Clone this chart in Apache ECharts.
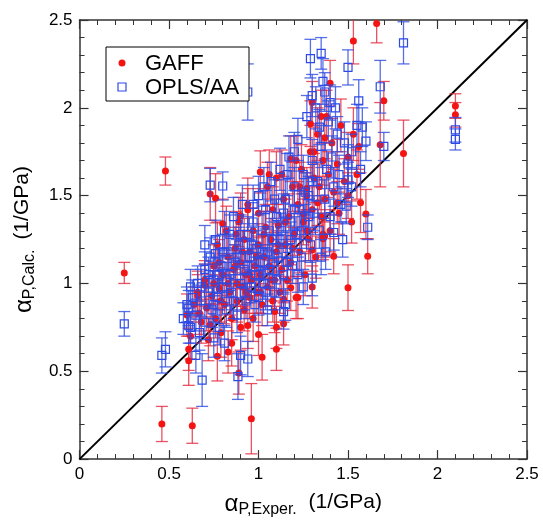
<!DOCTYPE html>
<html><head><meta charset="utf-8">
<script src="https://cdn.jsdelivr.net/npm/echarts@6/dist/echarts.min.js"></script>
<style>html,body{margin:0;padding:0;background:#fff}#c{width:543px;height:523px}</style>
</head><body><div id="c"></div>
<script>
// axis ticks (both axes)
const tickValues = [0, 0.5, 1, 1.5, 2, 2.5];
const seriesNames = ['GAFF', 'OPLS/AA'];
// [exper, calc, error]
const gaff = [
[0.25,1.06,0.06],[0.48,1.64,0.08],[0.46,0.20,0.10],[0.63,0.19,0.10],[0.96,0.23,0.20],[0.61,0.625,0.12],[0.61,0.56,0.14],
[0.77,0.585,0.14],[0.83,0.61,0.12],[0.85,0.66,0.13],[0.89,0.49,0.12],[1.02,0.58,0.13],[1.00,0.71,0.12],[1.10,0.625,0.12],
[1.10,0.75,0.12],[0.94,0.76,0.13],[0.67,0.83,0.12],[0.73,0.765,0.12],[0.73,1.51,0.15],[0.76,1.485,0.14],[0.80,1.34,0.14],
[0.90,1.385,0.13],[0.94,1.42,0.12],[0.875,1.28,0.13],[1.01,1.635,0.12],[1.06,1.62,0.14],[0.78,1.12,0.13],[0.70,0.99,0.12],
[0.66,0.93,0.12],[1.66,2.48,0.11],[1.53,2.38,0.13],[1.30,2.03,0.12],[1.40,2.14,0.13],[1.70,2.04,0.11],[1.29,1.91,0.13],
[1.37,1.83,0.12],[1.56,1.78,0.13],[1.68,1.79,0.24],[1.81,1.74,0.19],[2.10,2.01,0.07],[2.10,1.96,0.07],[1.18,1.71,0.13],
[1.27,1.54,0.12],[1.57,1.46,0.17],[1.60,1.395,0.14],[1.61,1.155,0.10],[1.42,1.155,0.10],[1.50,0.976,0.13],[1.37,1.27,0.12],
[1.30,0.98,0.12],[1.36,1.28,0.12],[1.36,1.255,0.12],[1.30,1.19,0.12],[1.50,1.50,0.13],[1.44,1.46,0.12],[1.33,1.46,0.13],
[1.25,1.395,0.13],[1.18,0.976,0.13],[1.14,0.91,0.13],[1.22,0.92,0.12],[1.09,0.84,0.12],[1.14,0.77,0.12],
[0.60,0.82,0.12],[0.62,0.70,0.13],[0.64,0.88,0.10],[0.66,0.95,0.12],[0.68,0.78,0.12],[0.70,1.02,0.11],[0.71,0.86,0.13],
[0.72,0.68,0.12],[0.74,0.93,0.12],[0.75,1.10,0.12],[0.76,0.80,0.11],[0.77,1.22,0.13],[0.78,0.97,0.12],[0.79,0.72,0.14],
[0.80,1.05,0.12],[0.81,0.88,0.11],[0.82,1.30,0.14],[0.83,1.15,0.12],[0.84,0.95,0.13],[0.85,0.80,0.12],[0.86,1.08,0.11],
[0.87,1.20,0.12],[0.88,0.90,0.12],[0.88,1.00,0.13],[0.89,1.35,0.14],[0.90,0.75,0.13],[0.90,1.12,0.12],[0.91,0.98,0.11],
[0.92,1.25,0.12],[0.92,0.85,0.12],[0.93,1.05,0.13],[0.94,1.45,0.15],[0.95,0.92,0.12],[0.95,1.18,0.12],[0.96,1.02,0.11],
[0.97,1.30,0.13],[0.97,0.80,0.13],[0.98,1.10,0.12],[0.99,0.95,0.12],[1.00,1.22,0.12],[1.00,1.40,0.14],[1.01,1.05,0.12],
[1.02,0.88,0.12],[1.03,1.15,0.12],[1.04,1.32,0.13],[1.05,0.98,0.11],[1.05,1.55,0.14],[1.06,1.10,0.12],[1.07,1.25,0.12],
[1.08,0.90,0.12],[1.08,1.42,0.13],[1.09,1.02,0.12],[1.10,1.18,0.12],[1.10,1.60,0.15],[1.11,1.33,0.12],[1.12,0.95,0.12],
[1.13,1.08,0.12],[1.14,1.48,0.13],[1.15,1.22,0.12],[1.16,1.02,0.12],[1.17,1.38,0.13],[1.18,1.12,0.12],[1.19,1.55,0.14],
[1.20,1.28,0.12],[1.21,0.92,0.12],[1.22,1.45,0.13],[1.23,1.18,0.12],[1.24,1.65,0.14],[1.25,1.35,0.13],[1.26,1.05,0.12],
[1.27,1.50,0.13],[1.28,1.25,0.12],[1.29,1.75,0.15],[1.30,1.42,0.13],[1.31,1.60,0.14],[1.32,1.15,0.12],[1.33,1.85,0.15],
[1.34,1.55,0.13],[1.35,1.38,0.12],[1.36,1.70,0.14],[1.37,1.48,0.13],[1.38,1.95,0.15],[1.39,1.62,0.13],[1.40,1.30,0.12],
[1.41,1.80,0.14],[1.42,1.52,0.13],[1.44,1.68,0.14],[1.45,1.40,0.12],[1.46,1.90,0.15],[1.48,1.58,0.13],[1.50,1.72,0.14],
[1.52,1.35,0.12],[1.55,1.62,0.14],[1.53,1.85,0.15],
[0.83,1.00,0.12],[0.87,1.10,0.12],[0.91,1.18,0.12],[0.95,1.05,0.12],[0.99,1.15,0.12],[1.03,1.28,0.13],[1.07,1.02,0.12],
[1.11,1.22,0.12],[1.15,1.35,0.13],[1.19,1.20,0.12],[1.23,1.55,0.14],[1.27,1.30,0.12],[0.79,0.90,0.12],[0.75,1.00,0.12],
[0.93,0.95,0.12],[1.01,0.95,0.12],[1.13,1.62,0.14],[1.21,1.70,0.14],[1.31,1.75,0.14],[1.35,1.95,0.15]
];
const opls = [
[0.25,0.77,0.07],[0.46,0.59,0.10],[0.48,0.625,0.10],[0.685,0.45,0.15],[0.885,0.47,0.13],[0.61,0.86,0.10],[0.61,0.76,0.10],
[0.65,0.59,0.10],[0.75,0.69,0.11],[0.81,0.66,0.10],[0.90,0.59,0.11],[0.94,0.57,0.10],[0.73,1.56,0.095],[0.80,1.555,0.08],
[0.76,1.17,0.10],[0.94,2.09,0.16],[1.81,2.37,0.12],[1.50,2.23,0.10],[1.35,2.31,0.09],[1.29,2.28,0.11],[1.30,2.07,0.12],
[1.37,2.09,0.11],[1.40,2.03,0.10],[1.68,2.12,0.15],[1.56,2.04,0.12],[1.34,1.89,0.10],[1.58,1.89,0.11],[1.44,1.85,0.10],
[1.60,1.81,0.11],[1.70,1.78,0.08],[2.10,1.875,0.07],[2.10,1.82,0.06],[1.52,1.75,0.10],[1.57,1.65,0.10],[1.20,1.75,0.11],
[1.61,1.32,0.07],[1.30,1.03,0.10],[1.375,1.18,0.10],[1.42,1.29,0.10],[1.50,1.59,0.10],[1.49,1.44,0.10],[1.14,0.84,0.10],
[0.58,0.80,0.09],[0.60,0.88,0.10],[0.62,0.75,0.09],[0.63,0.92,0.10],[0.65,0.82,0.09],[0.66,1.00,0.10],[0.67,0.72,0.10],
[0.68,0.90,0.09],[0.70,1.08,0.10],[0.70,0.78,0.10],[0.72,0.95,0.09],[0.73,1.15,0.11],[0.74,0.85,0.10],[0.75,1.02,0.09],
[0.76,1.25,0.11],[0.77,0.92,0.10],[0.78,0.75,0.10],[0.79,1.10,0.10],[0.80,0.98,0.09],[0.81,1.30,0.11],[0.82,0.85,0.10],
[0.83,1.18,0.10],[0.84,1.05,0.09],[0.85,0.95,0.10],[0.86,1.38,0.11],[0.87,1.12,0.10],[0.88,0.82,0.10],[0.89,1.22,0.10],
[0.90,1.00,0.09],[0.91,1.45,0.11],[0.92,1.08,0.10],[0.93,0.90,0.10],[0.94,1.28,0.10],[0.95,1.15,0.10],[0.96,0.98,0.09],
[0.97,1.35,0.11],[0.98,1.05,0.10],[0.99,1.20,0.10],[1.00,0.92,0.10],[1.00,1.50,0.11],[1.01,1.12,0.10],[1.02,1.30,0.10],
[1.03,1.00,0.09],[1.04,1.42,0.11],[1.05,1.18,0.10],[1.06,1.08,0.10],[1.07,1.58,0.11],[1.08,1.25,0.10],[1.09,0.95,0.10],
[1.10,1.38,0.10],[1.11,1.15,0.10],[1.12,1.65,0.12],[1.13,1.30,0.10],[1.14,1.05,0.10],[1.15,1.48,0.11],[1.16,1.20,0.10],
[1.17,1.72,0.12],[1.18,1.35,0.10],[1.19,1.10,0.10],[1.20,1.55,0.11],[1.21,1.28,0.10],[1.22,1.82,0.12],[1.23,1.42,0.11],
[1.24,1.15,0.10],[1.25,1.62,0.11],[1.26,1.35,0.10],[1.27,1.95,0.12],[1.28,1.50,0.11],[1.29,1.22,0.10],[1.30,1.70,0.12],
[1.31,1.40,0.10],[1.32,2.00,0.12],[1.33,1.58,0.11],[1.34,1.30,0.10],[1.35,1.78,0.12],[1.36,2.15,0.13],[1.37,1.48,0.11],
[1.38,1.65,0.11],[1.39,1.92,0.12],[1.40,1.38,0.10],[1.41,1.72,0.12],[1.42,1.55,0.11],[1.43,2.00,0.12],[1.45,1.62,0.11],
[1.46,1.45,0.10],[1.48,1.80,0.12],[1.50,1.68,0.11],[1.52,1.55,0.11],[1.55,1.90,0.12],[1.47,1.25,0.10],[1.35,1.15,0.10],
[1.25,0.98,0.10],[1.15,0.88,0.09],[1.05,0.85,0.09],
[0.82,1.02,0.10],[0.86,0.90,0.10],[0.88,1.15,0.10],[0.90,1.28,0.11],[0.92,0.95,0.10],[0.94,1.10,0.10],[0.96,1.22,0.10],
[0.98,0.88,0.10],[1.00,1.05,0.10],[1.02,1.18,0.10],[1.04,0.95,0.10],[1.06,1.30,0.11],[1.08,1.12,0.10],[1.10,1.02,0.10],
[1.12,1.25,0.10],[1.14,1.40,0.11],[1.16,1.12,0.10],[1.18,1.25,0.10],[1.20,1.42,0.11],[1.22,1.05,0.10],[1.24,1.30,0.10],
[1.26,1.52,0.11],[1.28,1.38,0.10],[1.30,1.58,0.11],[0.78,1.05,0.10],[0.80,1.18,0.10],[0.84,1.28,0.11],[0.72,1.05,0.10],
[0.68,0.98,0.10],[0.75,0.88,0.10],[0.97,1.45,0.11],[1.03,1.55,0.11],[1.09,1.48,0.11],[1.16,1.62,0.12],[0.62,0.98,0.10],
[0.70,1.22,0.11]
];
const diagonal = [[0,0],[2.5,2.5]];

const RED = '#f51414', RED_BAR = 'rgba(228,40,60,0.8)';
const BLUE = '#2d4ae6', BLUE_BAR = 'rgba(45,75,225,0.8)';
const FONT = 'Liberation Sans, Arial, Helvetica, sans-serif';

function errorSeries(name, data, color, z) {
  return {
    name, type: 'custom', data, z, clip: true, silent: true, animation: false,
    xAxisIndex: 0, yAxisIndex: 0, encode: { x: 0, y: 1 },
    renderItem(params, api) {
      const x = api.value(0), y = api.value(1), e = api.value(2);
      const t = api.coord([x, y + e]), b = api.coord([x, y - e]);
      const hw = 6, st = { stroke: color, lineWidth: 1.3 };
      return { type: 'group', children: [
        { type: 'line', shape: { x1: t[0], y1: t[1], x2: b[0], y2: b[1] }, style: st },
        { type: 'line', shape: { x1: t[0] - hw, y1: t[1], x2: t[0] + hw, y2: t[1] }, style: st },
        { type: 'line', shape: { x1: b[0] - hw, y1: b[1], x2: b[0] + hw, y2: b[1] }, style: st }
      ]};
    }
  };
}

function axisBase(pos, show, extra) {
  return Object.assign({
    type: 'value', position: pos, min: tickValues[0], max: tickValues[tickValues.length - 1], interval: 0.5,
    axisLine: { show: true, onZero: false, lineStyle: { color: '#333', width: 1.5 } },
    axisTick: { show: true, inside: true, length: 9, lineStyle: { color: '#333', width: 1.2 } },
    minorTick: { show: true, splitNumber: 5, length: 5, lineStyle: { color: '#333', width: 1 } },
    splitLine: { show: false },
    axisLabel: { show: show, fontSize: 17, color: '#000', fontFamily: FONT, margin: 7 }
  }, extra || {});
}

const richBase = {
  a: { fontSize: 24, fontFamily: FONT, color: '#000', verticalAlign: 'top', lineHeight: 26 },
  s: { fontSize: 16, fontFamily: FONT, color: '#000', verticalAlign: 'bottom', lineHeight: 18, padding: [14, 0, 0, 0] },
  b: { fontSize: 21, fontFamily: FONT, color: '#000', verticalAlign: 'top', lineHeight: 26 },
  g: { fontSize: 21, fontFamily: FONT, color: '#000', verticalAlign: 'top', lineHeight: 26, padding: [0, 0, 0, 10] }
};

const chart = echarts.init(document.getElementById('c'), null, { renderer: 'canvas' });
chart.setOption({
  animation: false,
  backgroundColor: '#fff',
  grid: { left: 78, right: 16, top: 20, bottom: 55, containLabel: false },
  xAxis: [
    axisBase('bottom', true, {
      name: '{a|α}{s|P,Exper.}{b|  (1/GPa)}', nameLocation: 'middle', nameGap: 16,
      nameTextStyle: { rich: richBase, verticalAlign: 'top' }
    }),
    axisBase('top', false)
  ],
  yAxis: [
    axisBase('left', true, {
      name: '{a|α}{s|P,Calc.}{g|(1/GPa)}', nameLocation: 'middle', nameGap: 36,
      nameTextStyle: { rich: richBase }
    }),
    axisBase('right', false)
  ],
  series: [
    { type: 'line', data: diagonal, symbol: 'none', z: 1, silent: true,
      lineStyle: { color: '#000', width: 2 }, xAxisIndex: 0, yAxisIndex: 0 },
    errorSeries(seriesNames[0], gaff, RED_BAR, 2),
    { name: seriesNames[0], type: 'scatter', data: gaff, z: 3, symbol: 'circle', symbolSize: 7, clip: true,
      itemStyle: { color: RED, opacity: 1 }, encode: { x: 0, y: 1 } },
    errorSeries(seriesNames[1], opls, BLUE_BAR, 4),
    { name: seriesNames[1], type: 'scatter', data: opls, z: 5, symbol: 'rect', symbolSize: 8, clip: true,
      itemStyle: { color: 'rgba(0,0,0,0)', borderColor: BLUE, borderWidth: 1.2, opacity: 1 }, encode: { x: 0, y: 1 } }
  ],
  graphic: [
    { type: 'rect', z: 100, shape: { x: 106, y: 47, width: 143, height: 54 },
      style: { fill: '#fff', stroke: '#000', lineWidth: 1 } },
    { type: 'circle', z: 101, shape: { cx: 122, cy: 63, r: 3.5 }, style: { fill: RED } },
    { type: 'rect', z: 101, shape: { x: 118, y: 83, width: 8, height: 8 },
      style: { fill: 'none', stroke: BLUE, lineWidth: 1.2 } },
    { type: 'text', z: 101, x: 145, y: 64, style: { text: seriesNames[0], fontSize: 22, fontFamily: FONT, fill: '#000', verticalAlign: 'middle' } },
    { type: 'text', z: 101, x: 145, y: 88, style: { text: seriesNames[1], fontSize: 22, fontFamily: FONT, fill: '#000', verticalAlign: 'middle' } }
  ]
});
</script>
</body></html>
